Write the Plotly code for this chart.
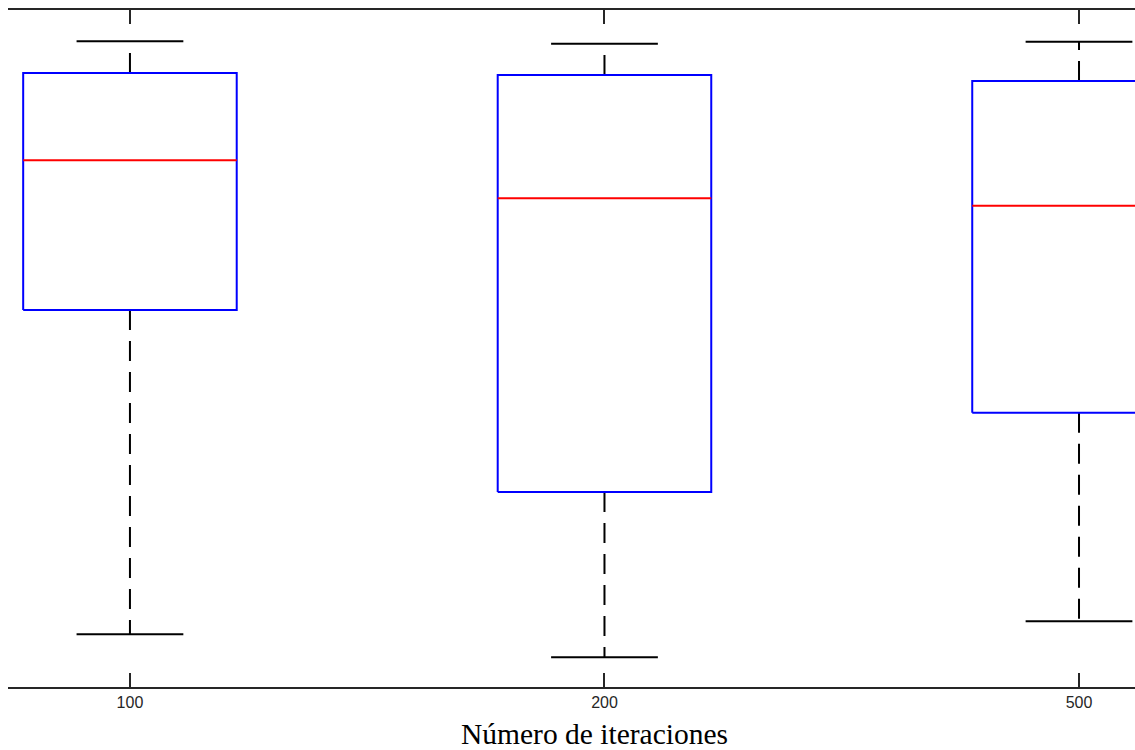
import plotly.graph_objects as go

categories = ["100", "200", "500"]
positions = [1, 2, 3]
upper_whisker = [0.954, 0.950, 0.953]
q3 = [0.907, 0.904, 0.895]
median = [0.778, 0.722, 0.711]
q1 = [0.557, 0.288, 0.405]
lower_whisker = [0.078, 0.044, 0.097]

half_box = 0.225
half_cap = 0.1125

fig = go.Figure()
for i, x in enumerate(positions):
    # whiskers (dashed)
    fig.add_trace(go.Scatter(x=[x, x], y=[q3[i], upper_whisker[i]], mode="lines",
                             line=dict(color="black", width=2, dash="20px,11px"),
                             hoverinfo="skip", showlegend=False))
    fig.add_trace(go.Scatter(x=[x, x], y=[q1[i], lower_whisker[i]], mode="lines",
                             line=dict(color="black", width=2, dash="20px,11px"),
                             hoverinfo="skip", showlegend=False))
    # caps
    for v in (upper_whisker[i], lower_whisker[i]):
        fig.add_trace(go.Scatter(x=[x - half_cap, x + half_cap], y=[v, v], mode="lines",
                                 line=dict(color="black", width=2),
                                 hoverinfo="skip", showlegend=False))
    # box
    fig.add_trace(go.Scatter(x=[x - half_box, x + half_box, x + half_box, x - half_box, x - half_box],
                             y=[q1[i], q1[i], q3[i], q3[i], q1[i]], mode="lines",
                             line=dict(color="#0000FF", width=2),
                             hoverinfo="skip", showlegend=False))
    # median
    fig.add_trace(go.Scatter(x=[x - half_box, x + half_box], y=[median[i], median[i]], mode="lines",
                             line=dict(color="#FF0000", width=2),
                             hoverinfo="skip", showlegend=False))

fig.update_layout(
    width=1135, height=750,
    margin=dict(l=8, r=0, t=10, b=63),
    plot_bgcolor="white", paper_bgcolor="white",
    xaxis=dict(range=[0.743, 3.118], tickvals=positions, ticktext=categories,
               showgrid=False, zeroline=False, showline=True, linecolor="#262626", linewidth=1.5,
               mirror="ticks", ticks="inside", ticklen=14, tickwidth=1.5, tickcolor="#262626",
               tickfont=dict(family="Liberation Sans, Arial", size=16, color="#262626")),
    yaxis=dict(range=[0, 1], showgrid=False, zeroline=False, showline=False,
               showticklabels=False, ticks=""),
    annotations=[dict(text="Número de iteraciones", xref="paper", yref="paper",
                      x=(594 - 8) / 1127, y=0, yshift=-47, yanchor="middle", showarrow=False,
                      font=dict(family="Liberation Serif, Times New Roman", size=29.5, color="black"))],
)

fig.write_html(
    "out.html",
    config={"displayModeBar": False},
    post_script="document.body.style.margin='0';document.documentElement.style.overflow='hidden';",
)
